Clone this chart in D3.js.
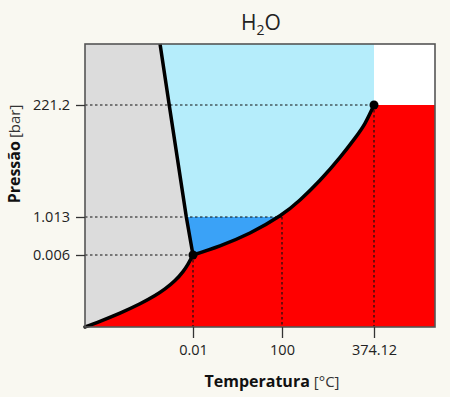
<!DOCTYPE html>
<html>
<head>
<meta charset="utf-8">
<script src="https://cdn.jsdelivr.net/npm/d3@7"></script>
<style>
  body { margin: 0; background: #f9f8f1; }
  svg { display: block; font-family: "Open Sans", "Noto Sans", sans-serif; }
</style>
</head>
<body>
<script>
// tick values shown on the axes
const tempTicks = [0.01, 100, 374.12];
const presTicks = [0.006, 1.013, 221.2];

// schematic axis breakpoints (diagram is not to scale)
const tempDomain = [-60, 0.01, 100, 374.12, 450];
const presDomain = [0, 0.006, 1.013, 221.2, 300];

// phase boundaries [temperature, pressure]
const sublimation = [[-60, 0], [-51.67, 0.000475], [-40.55, 0.001158], [-29.44, 0.001933],
                     [-21.10, 0.002621], [-15.55, 0.003171], [-9.99, 0.003867],
                     [-5.55, 0.004617], [-2.77, 0.005242], [0.01, 0.006]];
const vaporization = [[0.01, 0.006], [30.34, 0.2498], [64.05, 0.589], [97.75, 3.372],
                      [153.63, 34.44], [213.22, 73.16], [272.82, 118.18],
                      [317.51, 156.13], [347.30, 185.22], [374.12, 221.2]];
const melting = [[0.01, 0.006], [-3.7, 1.013], [-13.2, 221.2], [-18.3, 300]];

// triple point and critical point
const markedPoints = [[0.01, 0.006], [374.12, 221.2]];

const W = 450, H = 397;
const margin = {top: 44, right: 15, bottom: 70, left: 85};
const width = W - margin.left - margin.right;
const height = H - margin.top - margin.bottom;

const svg = d3.select("body").append("svg")
    .attr("width", W)
    .attr("height", H);

svg.append("rect").attr("width", W).attr("height", H).attr("fill", "#f9f8f1");

const g = svg.append("g").attr("transform", `translate(${margin.left},${margin.top})`);

let x = d3.scaleLinear()
    .domain(tempDomain)
    .range([0, 108, 197, 289, width]);

let y = d3.scaleLinear()
    .domain(presDomain)
    .range([height, 211, 173, 61, 0]);

let smooth = d3.line().x(d => x(d[0])).y(d => y(d[1])).curve(d3.curveNatural);
let straight = d3.line().x(d => x(d[0])).y(d => y(d[1]));

let tMax = tempDomain[tempDomain.length - 1];
let pMax = presDomain[presDomain.length - 1];
let crit = markedPoints[1];

// solid region (background of plot)
g.append("rect").attr("width", width).attr("height", height).attr("fill", "#dcdcdc");

// vapour region
let vaporPath = smooth(sublimation) + smooth(vaporization).replace(/^M/, "L")
    + `L${x(tMax)},${y(crit[1])}L${x(tMax)},${y(0)}Z`;
g.append("path").attr("d", vaporPath).attr("fill", "#ff0000");

// liquid region
let liquidPath = straight(melting.slice().reverse()) + smooth(vaporization).replace(/^M/, "L")
    + `L${x(crit[0])},${y(pMax)}Z`;
g.append("path").attr("d", liquidPath).attr("fill", "#b5edfb");

// liquid below 1 atm
g.append("clipPath").attr("id", "below-atm")
  .append("rect")
    .attr("x", 0).attr("y", y(presTicks[1]))
    .attr("width", width).attr("height", height - y(presTicks[1]));
g.append("path").attr("d", liquidPath).attr("fill", "#3aa2f7").attr("clip-path", "url(#below-atm)");

// supercritical corner
g.append("rect")
    .attr("x", x(crit[0])).attr("y", 0)
    .attr("width", width - x(crit[0])).attr("height", y(crit[1]))
    .attr("fill", "#ffffff");

// dotted guide lines
let guides = tempTicks.map((t, i) => [t, presTicks[i]]);
g.selectAll(".hguide").data(guides).join("line")
    .attr("x1", 0).attr("x2", d => x(d[0]))
    .attr("y1", d => y(d[1])).attr("y2", d => y(d[1]))
    .attr("stroke", "#111").attr("stroke-width", 1.2).attr("stroke-dasharray", "2.5,2.5");
g.selectAll(".vguide").data(guides).join("line")
    .attr("x1", d => x(d[0])).attr("x2", d => x(d[0]))
    .attr("y1", d => y(d[1])).attr("y2", height)
    .attr("stroke", "#111").attr("stroke-width", 1.2).attr("stroke-dasharray", "2.5,2.5");

// boundary curves
[sublimation, vaporization].forEach(c => {
    g.append("path").attr("d", smooth(c))
        .attr("fill", "none").attr("stroke", "#000")
        .attr("stroke-width", 3.5).attr("stroke-linecap", "round");
});
g.append("path").attr("d", straight(melting))
    .attr("fill", "none").attr("stroke", "#000")
    .attr("stroke-width", 3.5).attr("stroke-linecap", "butt");

g.selectAll(".pt").data(markedPoints).join("circle")
    .attr("cx", d => x(d[0])).attr("cy", d => y(d[1]))
    .attr("r", 4.5).attr("fill", "#000");

// frame
g.append("rect").attr("width", width).attr("height", height)
    .attr("fill", "none").attr("stroke", "#555").attr("stroke-width", 1.6);

// axes
let xAxis = d3.axisBottom(x).tickValues(tempTicks).tickFormat(d => String(d))
    .tickSize(11).tickPadding(7);
let xg = g.append("g").attr("transform", `translate(0,${height})`).call(xAxis);

let yAxis = d3.axisLeft(y).tickValues(presTicks).tickFormat(d => String(d))
    .tickSize(9).tickPadding(6);
let yg = g.append("g").call(yAxis);

[xg, yg].forEach(a => {
    a.select(".domain").remove();
    a.selectAll(".tick line").attr("stroke", "#333").attr("stroke-width", 1.3);
    a.selectAll(".tick text").attr("fill", "#222")
        .style("font-size", "14.5px").style("font-family", "\"Open Sans\", sans-serif");
});

// title
let title = svg.append("text").attr("x", 261).attr("y", 30)
    .attr("text-anchor", "middle").attr("fill", "#222")
    .style("font-size", "21px");
title.append("tspan").text("H");
title.append("tspan").attr("dy", 5).style("font-size", "14px").text("2");
title.append("tspan").attr("dy", -5).text("O");

// axis titles
let xt = svg.append("text").attr("x", 272).attr("y", 387)
    .attr("text-anchor", "middle").attr("fill", "#111");
xt.append("tspan").style("font-weight", "bold").style("font-size", "16px").text("Temperatura");
xt.append("tspan").attr("dx", 4).style("font-size", "15px").attr("fill", "#333").text("[°C]");

let yt = svg.append("text")
    .attr("transform", "translate(20,154) rotate(-90)")
    .attr("text-anchor", "middle").attr("fill", "#111");
yt.append("tspan").style("font-weight", "bold").style("font-size", "16px").text("Pressão");
yt.append("tspan").attr("dx", 3).style("font-size", "15px").attr("fill", "#333").text("[bar]");
</script>
</body>
</html>
